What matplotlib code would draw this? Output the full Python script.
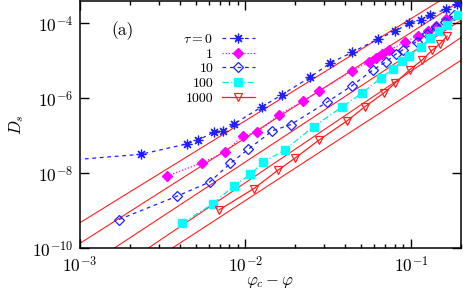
import numpy as np
import matplotlib
matplotlib.use("Agg")
import matplotlib.pyplot as plt
from matplotlib.ticker import FixedLocator, NullLocator, LogLocator

plt.rcParams['font.family'] = 'serif'
plt.rcParams['font.serif'] = ['cmr10']
plt.rcParams['mathtext.fontset'] = 'cm'
plt.rcParams['axes.formatter.use_mathtext'] = True
plt.rcParams['axes.unicode_minus'] = False

# ---- data ----
tau0_x = [5.73e-4, 2.33e-3, 4.41e-3, 5.19e-3, 6.45e-3, 7.34e-3, 8.52e-3, 1.259e-2, 1.655e-2, 2.45e-2,
          3.26e-2, 4.43e-2, 6.32e-2, 8.06e-2, 9.79e-2, 0.1146, 0.1308, 0.162, 0.19]
tau0_y = [1.93e-8, 3.21e-8, 6.04e-8, 7.73e-8, 1.26e-7, 1.38e-7, 2.06e-7, 5.97e-7, 1.225e-6, 3.63e-6,
          8.73e-6, 1.69e-5, 3.81e-5, 6.24e-5, 1.0e-4, 1.225e-4, 1.66e-4, 2.36e-4, 3.27e-4]

tau1_x = [3.37e-3, 5.48e-3, 7.57e-3, 9.62e-3, 1.178e-2, 1.594e-2, 2.216e-2, 2.79e-2, 4.40e-2, 5.57e-2,
          6.12e-2, 6.71e-2, 7.42e-2, 9.15e-2, 0.1098, 0.1267, 0.1426, 0.1639]
tau1_y = [8.47e-9, 1.92e-8, 3.70e-8, 1.007e-7, 1.24e-7, 3.63e-7, 8.22e-7, 1.585e-6, 5.35e-6, 9.46e-6,
          1.21e-5, 1.49e-5, 1.94e-5, 3.11e-5, 4.67e-5, 6.35e-5, 8.47e-5, 1.34e-4]

tau10_x = [1.72e-3, 3.88e-3, 6.08e-3, 8.12e-3, 1.035e-2, 1.456e-2, 1.883e-2, 3.12e-2, 4.38e-2, 5.89e-2,
           7.09e-2, 8.12e-2, 8.91e-2, 0.1082, 0.1254, 0.1416, 0.1612, 0.1819]
tau10_y = [5.86e-10, 2.48e-9, 5.86e-9, 1.85e-8, 4.31e-8, 1.36e-7, 2.00e-7, 7.96e-7, 2.13e-6, 5.69e-6,
           9.46e-6, 1.52e-5, 1.94e-5, 3.23e-5, 5.09e-5, 7.82e-5, 1.096e-4, 1.66e-4]

tau100_x = [4.15e-3, 6.33e-3, 8.54e-3, 1.072e-2, 1.275e-2, 1.725e-2, 2.58e-2, 3.81e-2, 5.04e-2, 6.61e-2,
            7.78e-2, 8.79e-2, 9.72e-2, 0.1145, 0.1308, 0.1483, 0.1657, 0.1936]
tau100_y = [4.67e-10, 1.52e-9, 4.67e-9, 9.4e-9, 1.94e-8, 4.18e-8, 1.75e-7, 5.75e-7, 1.36e-6, 3.54e-6,
            6.04e-6, 9.88e-6, 1.34e-5, 2.38e-5, 3.98e-5, 6.24e-5, 9.01e-5, 1.66e-4]

tau1000_x = [6.92e-3, 1.119e-2, 1.565e-2, 1.991e-2, 2.79e-2, 4.13e-2, 5.27e-2, 6.87e-2, 8.0e-2,
             9.86e-2, 0.1169, 0.1343, 0.1503, 0.1655]
tau1000_y = [1.05e-9, 3.86e-9, 1.19e-8, 2.53e-8, 7.73e-8, 2.53e-7, 5.97e-7, 1.385e-6, 2.51e-6,
             5.79e-6, 1.05e-5, 1.905e-5, 2.86e-5, 4.53e-5]

# power-law fits D = A * x**gamma
fit_prefactor = [0.0697, 0.03656, 0.01271, 0.0049, 0.001035]
fit_exponent = [2.72, 2.81, 2.90, 2.97, 2.87]

series_labels = [r'$\tau = 0$', '1', '10', '100', '1000']
xlim = (1e-3, 0.2)
ylim = (1e-10, 4e-4)
yticks = [1e-10, 1e-8, 1e-6, 1e-4]
xticks = [1e-3, 1e-2, 1e-1]

# ---- figure ----
fig = plt.figure(figsize=(4.63, 2.92), dpi=100)
ax = fig.add_axes([80/463, 43.7/292, 380.7/463, 247.6/292])
ax.set_xscale('log')
ax.set_yscale('log')

xf = np.geomspace(xlim[0], xlim[1], 200)
for A, g in zip(fit_prefactor, fit_exponent):
    ax.plot(xf, A * xf**g, color='#ff2020', lw=0.8, zorder=1)

blue = '#2020ff'
ax.plot(tau0_x, tau0_y, ls=(0, (3, 3)), color=blue, lw=0.9, marker=(8, 2, 0), ms=7, mew=0.9,
        mec=blue, label=series_labels[0], zorder=3)
ax.plot(tau1_x, tau1_y, ls=(0, (1, 1.5)), color='#ff00ff', lw=0.9, marker='D', ms=4.8,
        mfc='#ff00ff', mec='#ff00ff', label=series_labels[1], zorder=3)
ax.plot(tau10_x, tau10_y, ls=(0, (3, 3)), color=blue, lw=0.9, marker='D', ms=5.4, mfc='none',
        mec=blue, mew=0.9, label=series_labels[2], zorder=3)
ax.plot(tau100_x, tau100_y, ls=(0, (5, 2, 1, 2)), color='#00e8e8', lw=0.9, marker='s', ms=5.8,
        mfc='#00ffff', mec='#00ffff', label=series_labels[3], zorder=3)
ax.plot(tau1000_x, tau1000_y, ls='-', color='#ff2020', lw=0.9, marker='v', ms=6.3, mfc='none',
        mec='#ff2020', mew=0.9, label=series_labels[4], zorder=3)

ax.set_xlim(*xlim)
ax.set_ylim(*ylim)
ax.yaxis.set_major_locator(FixedLocator(yticks))
ax.yaxis.set_minor_locator(NullLocator())
ax.xaxis.set_major_locator(FixedLocator(xticks))
ax.xaxis.set_minor_locator(LogLocator(base=10, subs=np.arange(2, 10)))

ax.tick_params(which='both', direction='in', top=True, right=True, labelsize=12.5, width=1.0)
ax.tick_params(which='major', length=6.5, pad=5)
ax.tick_params(which='minor', length=3.2)
for s in ax.spines.values():
    s.set_linewidth(1.1)

ax.set_xlabel(r'$\varphi_c - \varphi$', fontsize=12, labelpad=-1)
ax.set_ylabel(r'$D_s$', fontsize=12, labelpad=4)

ax.text(0.112, 0.88, '(a)', transform=ax.transAxes, fontsize=12.5, ha='center', va='center')

leg = ax.legend(loc='upper right', bbox_to_anchor=(0.485, 0.91), markerfirst=False, frameon=False,
                fontsize=10, handlelength=2.4, handletextpad=0.6, labelspacing=0.15, borderpad=0.2)

fig.savefig('out.png', dpi=100)
